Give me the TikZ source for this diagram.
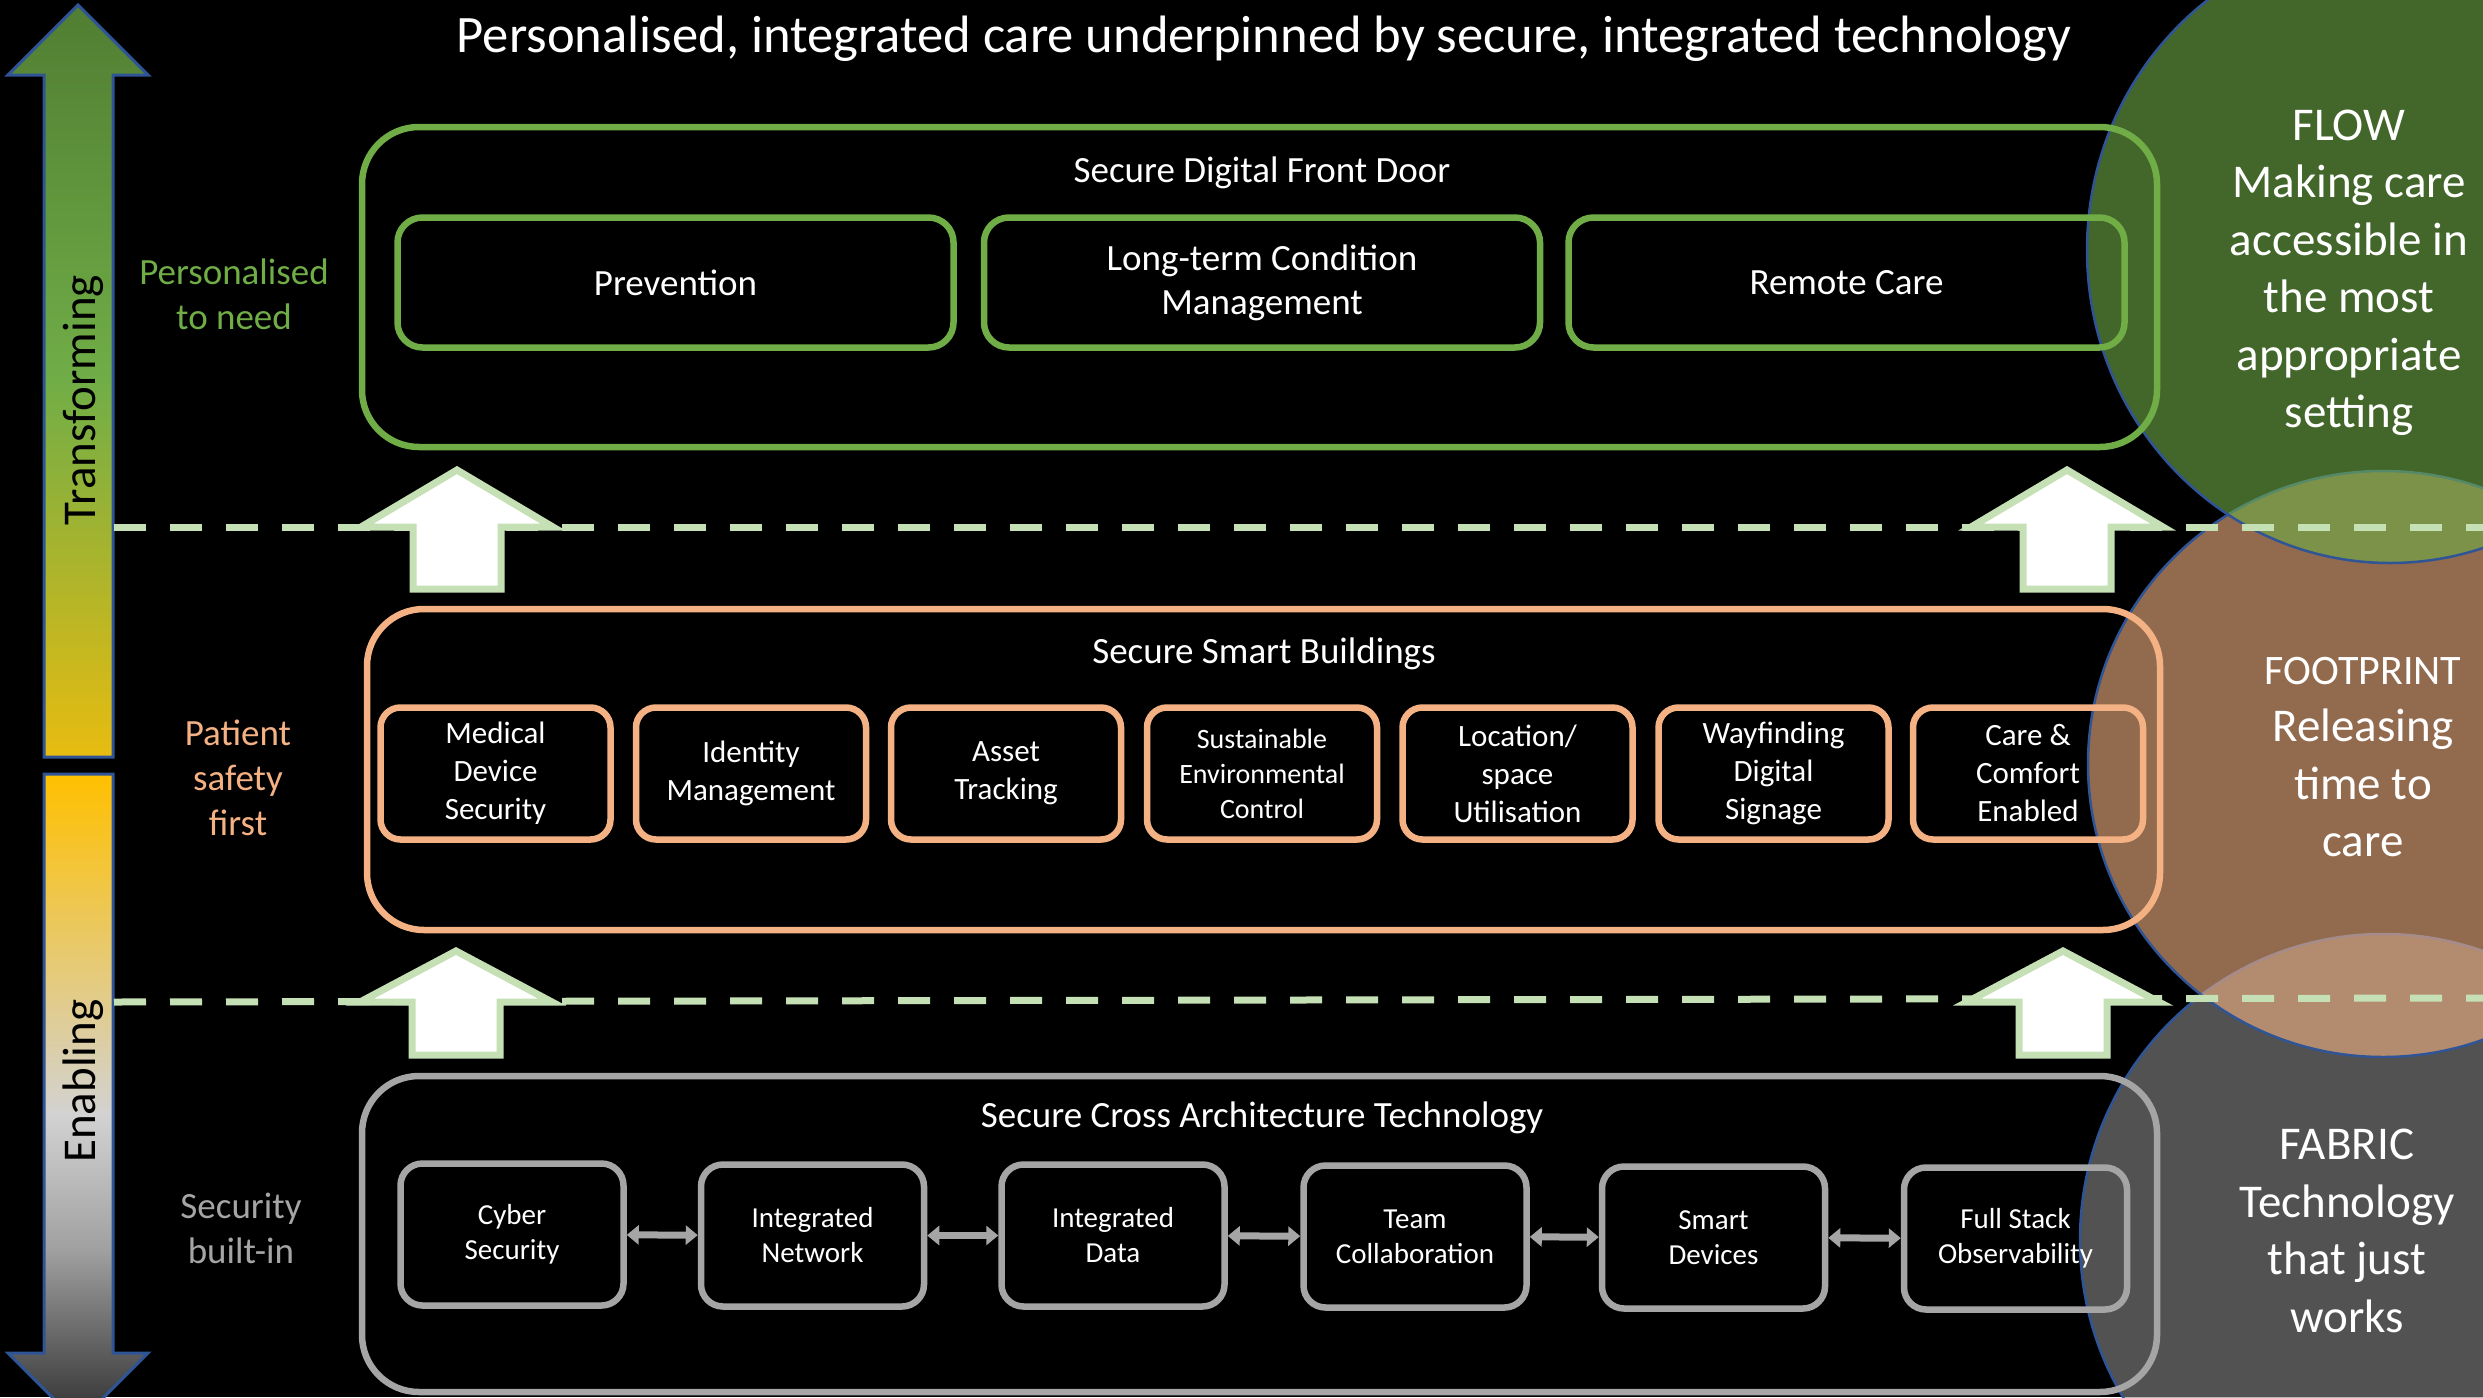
\documentclass[tikz,border=0pt]{standalone}
\usepackage{fontspec}
\setmainfont{Carlito}
\usetikzlibrary{arrows.meta}
\definecolor{cGrn}{HTML}{70AD47}
\definecolor{cOrg}{HTML}{F4B183}
\definecolor{cGry}{HTML}{A5A5A5}
\definecolor{cDash}{HTML}{C5E0B4}
\definecolor{cBlue}{HTML}{2F5597}
\definecolor{cFab}{RGB}{138,138,138}
\definecolor{cG1}{RGB}{80,125,50}
\definecolor{cG3}{RGB}{232,188,16}
\definecolor{cYel}{HTML}{FFC000}
\definecolor{cL1}{RGB}{210,210,210}
\definecolor{cL2}{RGB}{160,160,160}
\definecolor{cL3}{RGB}{45,45,45}
\newcommand\myfs[2]{\fontsize{#1}{#2}\selectfont}
\newcommand\blockup[4]{\draw[uparrow] (#1-44,#4) -- (#1-44,#3) -- (#1-96,#3) -- (#1,#2) -- (#1+96,#3) -- (#1+44,#3) -- (#1+44,#4) -- cycle;}
\begin{document}
\begin{tikzpicture}[x=1pt,y=-1pt,
  ttl/.style={text=white, font=\myfs{37}{44}},
  tbox/.style={draw=cGrn, line width=6.5pt, rounded corners=25pt, minimum width=556pt, minimum height=130pt, text=white, align=center, font=\myfs{37}{44}},
  obox/.style={draw=cOrg, line width=6.5pt, rounded corners=20pt, minimum width=230pt, minimum height=132pt, text=white, align=center, font=\myfs{31}{38}},
  gbox/.style={draw=cGry, line width=6.5pt, rounded corners=22pt, minimum width=223pt, minimum height=142pt, text=white, align=center, font=\myfs{29}{35}},
  link/.style={cGry, line width=7pt, {Triangle[width=19pt,length=12pt]}-{Triangle[width=19pt,length=12pt]}},
  uparrow/.style={draw=cDash, fill=white, line width=7pt, line join=miter},
  dashln/.style={cDash, line width=7pt, dash pattern=on 32pt off 24pt},
  side/.style={font=\myfs{37}{45}, align=center},
  circtxt/.style={text=white, font=\myfs{47}{57.5}, align=center},
  ellip/.style={fill opacity=0.6, draw=cBlue, line width=2.5pt}
]
\useasboundingbox (0,0) rectangle (2483,1397);
\fill[black] (0,0) rectangle (2483,1397);
\clip (0,0) rectangle (2483,1397);

% right-hand ellipses
\path[ellip, fill=cFab] (2383,1240) ellipse [x radius=303pt, y radius=306pt];
\path[ellip, fill=cOrg] (2383,764) ellipse [x radius=295pt, y radius=293pt];
\path[ellip, fill=cGrn] (2390,250) ellipse [x radius=303pt, y radius=313pt];

% left up arrow (Transforming)
\begin{scope}
\clip (44,757) -- (44,75) -- (8,75) -- (78,5) -- (148,75) -- (113,75) -- (113,757) -- cycle;
\shade[top color=cG1, bottom color=cGrn] (0,0) rectangle (160,380);
\shade[top color=cGrn, bottom color=cG3] (0,379) rectangle (160,760);
\end{scope}
\draw[cBlue, line width=3pt] (44,757) -- (44,75) -- (8,75) -- (78,5) -- (148,75) -- (113,75) -- (113,757) -- cycle;

% left down arrow (Enabling)
\begin{scope}
\clip (44,774) -- (44,1353) -- (8,1353) -- (78,1423) -- (148,1353) -- (113,1353) -- (113,774) -- cycle;
\shade[top color=cYel, bottom color=cL1] (0,774) rectangle (160,1116);
\shade[top color=cL1, bottom color=cL2] (0,1115) rectangle (160,1251);
\shade[top color=cL2, bottom color=cL3] (0,1250) rectangle (160,1425);
\end{scope}
\draw[cBlue, line width=3pt] (44,774) -- (44,1353) -- (8,1353) -- (78,1423) -- (148,1353) -- (113,1353) -- (113,774) -- cycle;

\node[rotate=90, font=\myfs{47}{56}, text=black] (transf) at (83,400) {Transforming};
\node[rotate=90, font=\myfs{47}{56}, text=black] (enabl) at (83,1081) {Enabling};

% side labels
\node[side, text=cGrn] (lbl1) at (234,294.5) {Personalised\\to need};
\node[side, text=cOrg] (lbl2) at (238,778) {Patient\\safety\\first};
\node[side, text=cGry] (lbl3) at (241,1228) {Security\\built-in};

% title
\node[text=white, font=\myfs{52.6}{60}] (title) at (1264,39) {Personalised, integrated care underpinned by secure, integrated technology};

% dashed separators
\draw[dashln] (114,527) -- (2483,527);
\draw[dashln] (114,1002) -- (2483,998);

% block arrows
\blockup{457}{470}{527}{589}
\blockup{2067}{470}{527}{589}
\blockup{456}{951}{1002}{1055}
\blockup{2063}{951}{1002}{1055}

% top group
\node[draw=cGrn, line width=6.5pt, rounded corners=57pt, minimum width=1795pt, minimum height=320pt] (topgrp) at (1259.5,287) {};
\node[ttl] (toptitle) at (1262,173) {Secure Digital Front Door};
\node[tbox] (prev) at (675.5,282.5) {Prevention};
\node[tbox] (ltc) at (1262,282.5) {Long-term Condition\\Management};
\node[tbox] (remote) at (1846.5,282.5) {Remote Care};

% middle group
\node[draw=cOrg, line width=6.5pt, rounded corners=57pt, minimum width=1793pt, minimum height=321pt] (midgrp) at (1263.5,769.5) {};
\node[ttl] (midtitle) at (1264,654) {Secure Smart Buildings};
\node[obox] (m1) at (495.5,773.5) {Medical\\Device\\Security};
\node[obox] (m2) at (751,773.5) {Identity\\Management};
\node[obox] (m3) at (1006,773.5) {Asset\\Tracking};
\node[obox, font=\myfs{28}{35}] (m4) at (1262,773.5) {Sustainable\\Environmental\\Control};
\node[obox] (m5) at (1517.5,773.5) {Location/\\space\\Utilisation};
\node[obox] (m6) at (1773.5,773.5) {Wayfinding\\Digital\\Signage};
\node[obox] (m7) at (2028,773.5) {Care \&\\Comfort\\Enabled};

% bottom group
\node[draw=cGry, line width=6.5pt, rounded corners=57pt, minimum width=1795pt, minimum height=316pt] (botgrp) at (1259.5,1234) {};
\node[ttl] (bottitle) at (1262,1117.5) {Secure Cross Architecture Technology};
\node[gbox] (b1) at (512,1234.5) {Cyber\\Security};
\node[gbox] (b2) at (812.5,1235.5) {Integrated\\Network};
\node[gbox] (b3) at (1113,1235.5) {Integrated\\Data};
\node[gbox] (b4) at (1415,1236.5) {Team\\Collaboration};
\node[gbox] (b5) at (1713.5,1237.5) {Smart\\Devices};
\node[gbox] (b6) at (2015.5,1238.5) {Full Stack\\Observability};
\draw[link] (b1) -- (b2);
\draw[link] (b2) -- (b3);
\draw[link] (b3) -- (b4);
\draw[link] (b4) -- (b5);
\draw[link] (b5) -- (b6);

% ellipse texts
\node[circtxt] (flow) at (2349,273) {FLOW\\Making care\\accessible in\\the most\\appropriate\\setting};
\node[circtxt] (foot) at (2363,757) {{\fontsize{42}{57.5}\selectfont FOOTPRINT}\\Releasing\\time to\\care};
\node[circtxt] (fabric) at (2347,1231) {FABRIC\\Technology\\that just\\works};
\end{tikzpicture}
\end{document}
